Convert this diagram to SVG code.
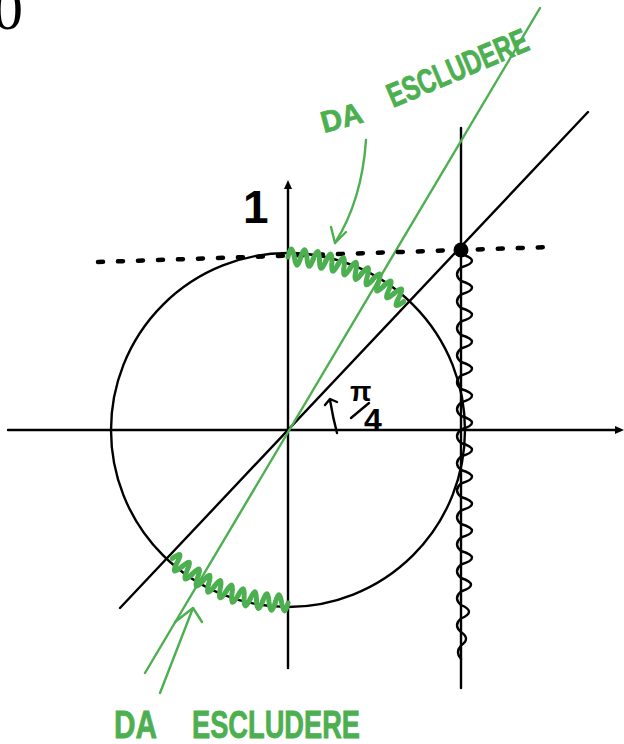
<svg xmlns="http://www.w3.org/2000/svg" xmlns:xlink="http://www.w3.org/1999/xlink" width="624" height="744" viewBox="0 0 624 744">
<style>
.k{stroke:#000;fill:none;stroke-width:2.4;stroke-linecap:round}
.g{stroke:#4caf50;fill:none;stroke-width:2.4;stroke-linecap:round}
.gw{stroke:#4caf50;fill:none;stroke-width:5;stroke-linecap:round;stroke-linejoin:round}
.gt{fill:#4caf50;stroke:#4caf50;stroke-width:0.8;font-family:"Liberation Sans",Arial,sans-serif;font-weight:bold}
.kt{fill:#000;font-family:"Liberation Sans",Arial,sans-serif;font-weight:bold}
</style>
<defs>
<path id="bump" class="gw" d="M288 257 Q291.46 241.03 294.34 257.12 Q296.63 273.24 300.67 257.47"/>
</defs>
<rect width="624" height="744" fill="#fff"/>
<text x="-7" y="29" font-family="Liberation Serif,serif" font-size="60" fill="#000">0</text>
<g id="axes">
<line class="k" x1="8" y1="430" x2="620" y2="430" stroke-width="2.6"/>
<polygon points="624,430 615,426 615,434" fill="#000"/>
<line class="k" x1="288" y1="186" x2="288" y2="668" stroke-width="2.6"/>
<polygon points="288,180 284,189 292,189" fill="#000"/>
</g>
<g id="circle"><circle cx="288" cy="430" r="177" class="k"/></g>
<g id="lines">
<line class="k" x1="120" y1="608" x2="588" y2="112"/>
<line class="k" x1="461" y1="128" x2="461" y2="688" stroke-width="2.6"/>
<line class="g" x1="145" y1="673" x2="540" y2="8"/>
<line x1="98" y1="262" x2="550" y2="247" stroke="#000" stroke-width="4.5" stroke-linecap="round" stroke-dasharray="5 15"/>
<circle cx="461" cy="250" r="7.5" fill="#000"/>
</g>
<g id="black-wave">
<path class="k" stroke-width="4.2" stroke-linejoin="round" d="M461 254 q22 6.75 0 13.5 q-8 6.75 0 13.5 q22 6.75 0 13.5 q-8 6.75 0 13.5 q22 6.75 0 13.5 q-8 6.75 0 13.5 q22 6.75 0 13.5 q-8 6.75 0 13.5 q22 6.75 0 13.5 q-8 6.75 0 13.5 q22 6.75 0 13.5 q-8 6.75 0 13.5 q22 6.75 0 13.5 q-8 6.75 0 13.5 q22 6.75 0 13.5 q-8 6.75 0 13.5 q22 6.75 0 13.5 q-8 6.75 0 13.5 q22 6.75 0 13.5 q-8 6.75 0 13.5 q22 6.75 0 13.5 q-8 6.75 0 13.5 q22 6.75 0 13.5 q-8 6.75 0 13.5 q20 6.75 0 13.5 q-8 6.75 0 13.5 q16 6.75 0 13.5 q-8 6.75 0 13.5 q10 6.75 0 13.5 q-6 6.75 0 13.5"/>
</g>
<g id="green-wave-top">
<use xlink:href="#bump" transform="rotate(0 288 430)"/>
<use xlink:href="#bump" transform="rotate(4.2 288 430)"/>
<use xlink:href="#bump" transform="rotate(8.4 288 430)"/>
<use xlink:href="#bump" transform="rotate(12.6 288 430)"/>
<use xlink:href="#bump" transform="rotate(16.8 288 430)"/>
<use xlink:href="#bump" transform="rotate(21 288 430)"/>
<use xlink:href="#bump" transform="rotate(25.2 288 430)"/>
<use xlink:href="#bump" transform="rotate(29.4 288 430)"/>
<use xlink:href="#bump" transform="rotate(33.6 288 430)"/>
<use xlink:href="#bump" transform="rotate(37.8 288 430)"/>
</g>
<g id="green-wave-bottom">
<use xlink:href="#bump" transform="rotate(180 288 430)"/>
<use xlink:href="#bump" transform="rotate(184.2 288 430)"/>
<use xlink:href="#bump" transform="rotate(188.4 288 430)"/>
<use xlink:href="#bump" transform="rotate(192.6 288 430)"/>
<use xlink:href="#bump" transform="rotate(196.8 288 430)"/>
<use xlink:href="#bump" transform="rotate(201 288 430)"/>
<use xlink:href="#bump" transform="rotate(205.2 288 430)"/>
<use xlink:href="#bump" transform="rotate(209.4 288 430)"/>
<use xlink:href="#bump" transform="rotate(213.6 288 430)"/>
<use xlink:href="#bump" transform="rotate(217.8 288 430)"/>
</g>
<g id="arrows">
<path class="g" stroke-width="2.6" d="M366 140 Q362 200 335 243"/>
<path class="g" stroke-width="3" stroke-linejoin="round" d="M331 227 L335 243 L346 232"/>
<path class="g" stroke-width="2.6" d="M160 693 L193 608"/>
<path class="g" stroke-width="3" stroke-linejoin="round" d="M175 622 L193 608 L202 622"/>
<path class="k" stroke-width="3.2" stroke-linejoin="round" d="M337 433 Q333 418 330 400 M325 405 L330 399 L337 402"/>
</g>
<g id="label-one"><text class="kt" x="243" y="223" font-size="46" font-family="Liberation Serif,serif">1</text></g>
<g id="label-pi4">
<text class="kt" x="350" y="401" font-size="28">π</text>
<line class="k" stroke-width="3.6" x1="351" y1="418" x2="369" y2="403"/>
<text class="kt" x="364" y="431" font-size="32">4</text>
</g>
<g id="label-top">
<text class="gt" x="324" y="133" font-size="30" textLength="42" lengthAdjust="spacingAndGlyphs" transform="rotate(-15 324 133)">DA</text>
<text class="gt" x="393" y="108" font-size="34" textLength="150" lengthAdjust="spacingAndGlyphs" transform="rotate(-23 393 108)">ESCLUDERE</text>
</g>
<g id="label-bottom">
<text class="gt" x="114" y="738" font-size="38" textLength="43" lengthAdjust="spacingAndGlyphs">DA</text>
<text class="gt" x="192" y="738" font-size="38" textLength="168" lengthAdjust="spacingAndGlyphs">ESCLUDERE</text>
</g>
</svg>
